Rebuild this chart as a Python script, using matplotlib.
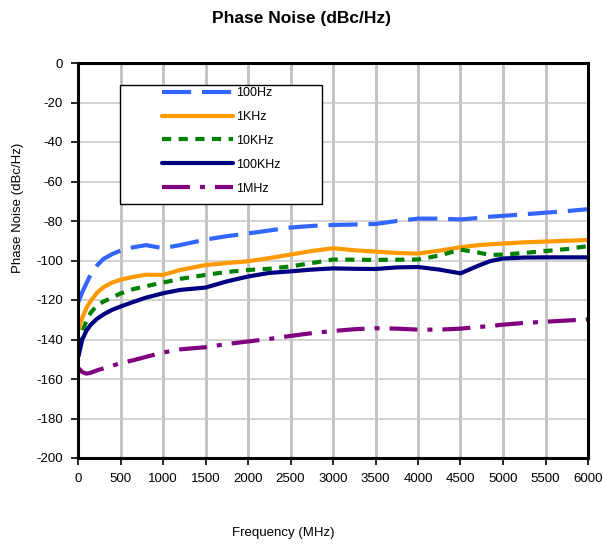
import matplotlib
matplotlib.use("Agg")
import matplotlib.pyplot as plt
from matplotlib.patches import Rectangle

plt.rcParams['font.family'] = ['Liberation Sans', 'DejaVu Sans']
plt.rcParams['axes.unicode_minus'] = False

freq_mhz = [5, 50, 100, 150, 225, 300, 400, 500, 650, 800, 1000, 1200, 1500,
            1750, 2000, 2250, 2500, 2750, 3000, 3250, 3500, 3750, 4000, 4250,
            4500, 4700, 4850, 5000, 5250, 5500, 5750, 6000]
noise_100hz = [-121, -116, -111.5, -107, -102.5, -99.2, -96.8, -95, -93.3, -92.2,
               -93.8, -92.2, -89.4, -87.7, -86.3, -84.8, -83.3, -82.5, -82, -81.8,
               -81.5, -80, -78.8, -78.8, -79.2, -78.5, -77.8, -77.4, -76.6, -75.8,
               -75, -74]
noise_1khz = [-135, -129, -124, -120.4, -116.3, -113.5, -111.2, -109.7, -108.3,
              -107.2, -107.3, -104.8, -102.3, -101.3, -100.4, -98.8, -97, -95.2,
              -93.8, -94.8, -95.5, -96.2, -96.5, -95, -93.3, -92.3, -91.8, -91.4,
              -90.8, -90.4, -90, -89.6]
noise_10khz = [-143.5, -136, -130.5, -126.4, -122.6, -120.8, -118.8, -116.7,
               -114.5, -113, -111.2, -109.3, -107.3, -105.8, -104.8, -104.2, -103,
               -101.3, -99.5, -99.6, -99.7, -99.6, -99.5, -97.5, -94.5, -95.9,
               -97.2, -97, -96.2, -95.2, -94.2, -92.7]
noise_100khz = [-148.5, -140, -135.5, -132.5, -129.5, -127.3, -125, -123.3, -121,
                -118.8, -116.6, -114.9, -113.7, -110.6, -108.1, -106.3, -105.5,
                -104.6, -104, -104.2, -104.3, -103.5, -103.3, -104.6, -106.5,
                -102.8, -100.3, -99, -98.5, -98.4, -98.4, -98.4]
noise_1mhz = [-154.5, -156.5, -157.3, -156.8, -155.6, -154.6, -153.3, -152,
              -150.5, -148.8, -146.6, -145, -143.9, -142.3, -141, -139.7, -138.2,
              -136.8, -135.7, -134.8, -134.3, -134.5, -135, -135, -134.5, -133.7,
              -133.2, -132.5, -131.6, -131, -130.4, -129.8]

labels = ['100Hz', '1KHz', '10KHz', '100KHz', '1MHz']
x_ticks = list(range(0, 6001, 500))
y_ticks = list(range(-200, 1, 20))

fig = plt.figure(figsize=(6.03, 5.47), dpi=100)
ax = fig.add_axes([78/603, 1-458/547, 510/603, 395/547])

lw = 3.0
ax.plot(freq_mhz, noise_100hz, color='#3366FF', lw=lw, dashes=(7, 2.6), label=labels[0], zorder=5)
ax.plot(freq_mhz, noise_1khz, color='#FF9900', lw=lw, solid_capstyle='round', label=labels[1], zorder=5)
ax.plot(freq_mhz, noise_10khz, color='#008000', lw=lw, dashes=(2.2, 1.8), label=labels[2], zorder=5)
ax.plot(freq_mhz, noise_100khz, color='#000080', lw=lw, solid_capstyle='round', label=labels[3], zorder=5)
ax.plot(freq_mhz, noise_1mhz, color='#800080', lw=lw, dashes=(6.7, 2.4, 1.2, 2.4), label=labels[4], zorder=5)

ax.set_xlim(0, 6000)
ax.set_ylim(-200, 0)
ax.set_xticks(x_ticks)
ax.set_yticks(y_ticks)
ax.tick_params(axis='both', labelsize=9.5, direction='out', length=5, width=1.2, pad=6)

for x in x_ticks[1:-1]:
    ax.axvline(x, color='#C0C0C0', lw=2, zorder=1)
for y in y_ticks[1:-1]:
    ax.axhline(y, color='#CCCCCC', lw=1.2, zorder=1)

for s in ax.spines.values():
    s.set_linewidth(2.2)
    s.set_color('black')
    s.set_zorder(6)

# legend frame
ax.add_patch(Rectangle((42/510, (458-204)/395), 202/510, 119/395,
                       transform=ax.transAxes, facecolor='white',
                       edgecolor='black', lw=1, zorder=7))
leg = ax.legend(loc='upper left', bbox_to_anchor=((162-78)/510, (458-87)/395),
                frameon=False, fontsize=9, handlelength=5.7, handletextpad=0.2,
                labelspacing=0.95, borderpad=0, borderaxespad=0)
leg.set_zorder(8)

fig.text(0.5, 1-18/547, 'Phase Noise (dBc/Hz)', ha='center', va='center',
         fontsize=12.5, fontweight='bold')
fig.text(283/603, 1-533/547, 'Frequency (MHz)', ha='center', va='center', fontsize=9.5)
fig.text(18/603, 1-208/547, 'Phase Noise (dBc/Hz)', ha='center', va='center',
         rotation=90, fontsize=9.5)

fig.savefig('out.png', dpi=100)
